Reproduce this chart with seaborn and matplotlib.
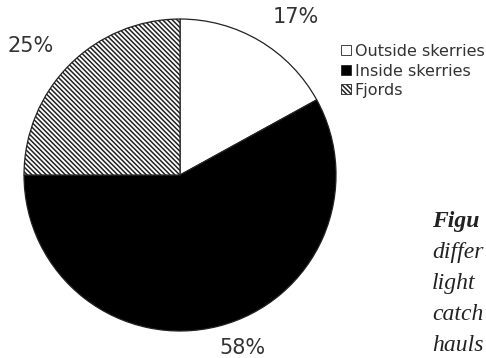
import matplotlib
matplotlib.use("Agg")
import matplotlib.pyplot as plt
from matplotlib.patches import Patch
import seaborn as sns

# share of catch by area
areas = ["Outside skerries", "Inside skerries", "Fjords"]
shares = [17, 58, 25]
faces = ["white", "black", "white"]
hatches = [None, None, "\\\\\\\\\\\\\\"]

# caption fragments visible at the right edge of the scan
caption_bold = "Figu"
caption_lines = ["differ", "light", "catch", "hauls"]

# where the percentage labels sit (data units of the unit pie)
pct_pos = [(0.74, 1.01), (0.40, -1.11), (-0.96, 0.83)]

sns.set_style("white")
plt.rcParams["font.family"] = ["DejaVu Sans"]
plt.rcParams["hatch.linewidth"] = 1.1

fig = plt.figure(figsize=(4.86, 3.58), dpi=100)
ax = fig.add_axes([0.0494, 0.0754, 0.642, 0.8715])

wedges, _, pcts = ax.pie(shares, colors=faces, startangle=90, counterclock=False,
                         autopct="%d%%", pctdistance=1.2, radius=1,
                         wedgeprops=dict(edgecolor="#222222", linewidth=0.9))
for w, h in zip(wedges, hatches):
    if h:
        w.set_hatch(h)
for t, p in zip(pcts, pct_pos):
    t.set_position(p)
    t.set_fontsize(15)
    t.set_color("#333333")
ax.set_xlim(-1, 1)
ax.set_ylim(-1, 1)
ax.axis("off")

handles = [Patch(facecolor=f, edgecolor="#222222", hatch=h, linewidth=0.6)
           for f, h in zip(faces, hatches)]
fig.legend(handles, areas, loc="upper left", bbox_to_anchor=(0.702, 0.877),
           frameon=False, fontsize=11.5, handlelength=0.6, handleheight=0.6,
           handletextpad=0.25, labelspacing=0.28, borderaxespad=0, borderpad=0,
           labelcolor="#333333")

fig.text(0.889, 1 - 227 / 358, caption_bold, fontsize=17, family="Liberation Serif",
         style="italic", weight="bold", color="#222222", va="baseline")
for i, line in enumerate(caption_lines):
    fig.text(0.889, 1 - (258 + i * 31) / 358, line, fontsize=17,
             family="Liberation Serif", style="italic", color="#222222",
             va="baseline")

fig.savefig("out.png", dpi=100)
